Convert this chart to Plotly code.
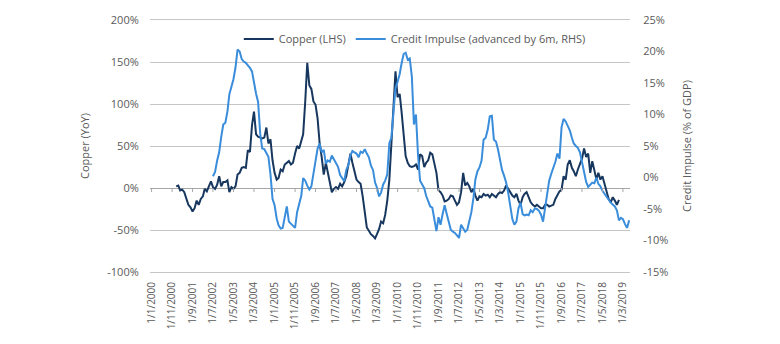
import plotly.graph_objects as go

# ---------------- data ----------------
copper_start = (2001, 1)
copper_yoy = [
    2, 3, -3, -2, -5, -12, -20, -23, -28, -24, -15, -20,          # 2001
    -13, -10, -1, -4, 2, 8, 1, -1, 4, 14, 2, 7,                   # 2002
    7, 9, -5, 1, -1, 2, 16, 18, 24, 25, 24, 45,                   # 2003
    43, 75, 91, 64, 61, 60, 59, 60, 72, 53, 58, 33,               # 2004
    18, 10, 12, 22, 20, 28, 30, 32, 28, 30, 41, 50,               # 2005
    47, 57, 64, 103, 149, 122, 118, 103, 99, 83, 53, 37,          # 2006
    16, 30, 18, 7, -5, -1, 1, -1, 5, 2, 7, 14,                    # 2007
    26, 41, 30, 18, 10, 7, 5, -10, -28, -47, -51, -55,            # 2008
    -57, -60, -55, -49, -40, -42, -32, -15, 10, 50, 100, 139,     # 2009
    108, 112, 91, 65, 38, 30, 26, 25, 26, 28, 22, 40,             # 2010
    38, 25, 30, 33, 42, 40, 30, 18, -3, -5, -9, -16,              # 2011
    -15, -13, -9, -10, -15, -20, -17, -5, 18, 3, 6, 2,            # 2012
    -5, -1, -9, -15, -10, -11, -7, -9, -8, -11, -7, -9,           # 2013
    -11, -7, -5, -6, -3, 3, -1, -5, -9, -11, -7, -15,             # 2014
    -20, -11, -7, -5, -11, -17, -20, -22, -20, -22, -24, -24,     # 2015
    -20, -20, -22, -21, -20, -13, -9, -4, -2, 14, 10, 28,         # 2016
    33, 24, 20, 14, 22, 28, 35, 47, 37, 41, 18, 32,               # 2017
    22, 10, 18, 10, 14, 5, -5, -13, -17, -11, -15, -20,           # 2018
    -14,                                                          # 2019
]

credit_start = (2002, 7)
credit_impulse = [
    0.2, 0.9, 2.7, 4.0, 6.5, 8.4,                                           # 2002 H2
    8.7, 10.5, 13.2, 14.3, 15.6, 17.5, 20.3, 20.0, 18.8, 18.4, 18.2, 17.8,  # 2003
    17.4, 16.8, 14.9, 13.3, 12.0, 7.0, 4.6, 4.5, 3.9, 3.3, 0.5, -3.4,       # 2004
    -4.4, -6.5, -7.6, -8.1, -8.0, -6.2, -4.6, -7.0, -7.3, -7.7, -8.0, -5.5, # 2005
    -4.4, -2.9, -0.1, -0.5, -1.3, -1.9, -1.4, 0.8, 2.8, 4.6, 5.4, 4.0,      # 2006
    4.4, 2.2, 2.7, 2.5, 3.5, 2.9, 2.2, 1.7, 0.4, -0.1, -0.6, 1.2,           # 2007
    2.0, 3.5, 4.2, 4.0, 3.8, 3.2, 4.1, 3.9, 4.5, 3.8, 3.2, 1.9,             # 2008
    1.2, -0.8, -1.6, -3.0, -2.4, -1.1, -0.5, 0.5, 5.5, 6.3, 10.0, 14.2,     # 2009
    15.2, 16.4, 18.1, 19.6, 19.8, 18.7, 18.9, 16.0, 8.4, 10.0, 3.5, -0.5,   # 2010
    -1.1, -1.7, -2.9, -3.9, -4.6, -4.8, -6.8, -8.5, -6.3, -7.5, -5.8, -4.4, # 2011
    -5.8, -7.2, -8.3, -8.6, -8.8, -9.2, -9.6, -7.5, -8.0, -8.6, -8.3, -6.8, # 2012
    -5.5, -3.2, -0.3, 1.0, 1.6, 2.7, 6.0, 6.3, 7.6, 9.7, 9.8, 6.0,          # 2013
    5.7, 4.4, 2.7, 1.2, 0.3, -0.8, -2.4, -4.3, -6.6, -7.5, -7.0, -4.9,      # 2014
    -4.0, -5.8, -6.0, -5.9, -6.0, -5.2, -5.5, -4.9, -5.0, -5.3, -5.9, -7.0, # 2015
    -4.8, -2.4, -0.5, 0.6, 1.4, 2.5, 3.8, 3.0, 8.0, 9.3, 8.9, 8.3,          # 2016
    7.5, 6.3, 5.4, 5.0, 4.7, 4.0, 2.5, 0.8, -0.7, -1.5, -1.2, -0.8,         # 2017
    -0.9, 0.0, -1.0, -1.4, -2.1, -2.6, -3.2, -3.6, -4.0, -4.3, -4.6, -5.2,  # 2018
    -6.8, -6.4, -6.6, -7.4, -8.0, -6.8,                                     # 2019 H1
]

x_tick_labels = [
    "1/1/2000", "1/11/2000", "1/9/2001", "1/7/2002", "1/5/2003", "1/3/2004",
    "1/1/2005", "1/11/2005", "1/9/2006", "1/7/2007", "1/5/2008", "1/3/2009",
    "1/1/2010", "1/11/2010", "1/9/2011", "1/7/2012", "1/5/2013", "1/3/2014",
    "1/1/2015", "1/11/2015", "1/9/2016", "1/7/2017", "1/5/2018", "1/3/2019",
]
left_ticks = [-100, -50, 0, 50, 100, 150, 200]
left_tick_text = ["-100%", "-50%", "0%", "50%", "100%", "150%", "200%"]
right_ticks = [-15, -10, -5, 0, 5, 10, 15, 20, 25]
right_tick_text = ["-15%", "-10%", "-5%", "0%", "5%", "10%", "15%", "20%", "25%"]


# ---------------- helpers ----------------
def monthly(start, n):
    y, m = start
    out = []
    for i in range(n):
        k = (m - 1) + i
        out.append("%04d-%02d-01" % (y + k // 12, k % 12 + 1))
    return out


def label_to_iso(lbl):
    d, m, y = lbl.split("/")
    return "%04d-%02d-%02d" % (int(y), int(m), int(d))


copper_dates = monthly(copper_start, len(copper_yoy))
credit_dates = monthly(credit_start, len(credit_impulse))
tick_dates = [label_to_iso(t) for t in x_tick_labels]

COPPER = "#17375E"
CREDIT = "#3A8DDB"
GRID = "#C6C6C6"
AXIS = "#A6A6A6"
TXT = "#595959"
CLEAR = "rgba(0,0,0,0)"

fig = go.Figure()
fig.add_trace(go.Scatter(x=copper_dates, y=copper_yoy, name="Copper (LHS)",
                         mode="lines", line=dict(color=COPPER, width=2)))
fig.add_trace(go.Scatter(x=credit_dates, y=credit_impulse, yaxis="y2",
                         name="Credit Impulse (advanced by 6m, RHS)",
                         mode="lines", line=dict(color=CREDIT, width=2)))

# small tick marks hanging below the 0% axis line
for d in tick_dates:
    fig.add_shape(type="line", xref="x", yref="y", x0=d, x1=d,
                  ysizemode="pixel", yanchor=0, y0=0, y1=-4,
                  line=dict(color=AXIS, width=1), layer="above")

xrange = ["1999-12-09", "2019-06-14"]

fig.update_layout(
    width=780, height=344,
    margin=dict(l=150, r=150, t=12, b=72),
    paper_bgcolor="white", plot_bgcolor="white",
    font=dict(family="Open Sans", size=11, color=TXT),
    showlegend=True,
    legend=dict(orientation="h", x=0.185, y=0.925, xanchor="left", yanchor="middle",
                bgcolor=CLEAR, font=dict(size=11, color=TXT)),
    xaxis=dict(type="date", range=xrange, tickmode="array",
               tickvals=tick_dates, ticktext=x_tick_labels,
               tickangle=-90, showgrid=False, showline=True, mirror=True,
               linecolor=GRID, linewidth=1,
               ticks="outside", ticklen=5, tickcolor=CLEAR,
               zeroline=False, tickfont=dict(size=10, color=TXT)),
    yaxis=dict(range=[left_ticks[0], left_ticks[-1]], tickmode="array",
               tickvals=left_ticks, ticktext=left_tick_text,
               showgrid=True, gridcolor=GRID, gridwidth=1,
               zeroline=True, zerolinecolor=AXIS, zerolinewidth=1,
               showline=False, ticks="outside", ticklen=8, tickcolor=CLEAR,
               title=dict(text="Copper (YoY)", font=dict(size=11, color=TXT))),
    yaxis2=dict(range=[right_ticks[0], right_ticks[-1]], tickmode="array",
                tickvals=right_ticks, ticktext=right_tick_text, overlaying="y",
                side="right", anchor="x", showgrid=False,
                zeroline=False, showline=False,
                ticks="outside", ticklen=10, tickcolor=CLEAR,
                title=dict(text="Credit Impulse (% of GDP)",
                           font=dict(size=11, color=TXT))),
)

fig.write_html("out.html")
